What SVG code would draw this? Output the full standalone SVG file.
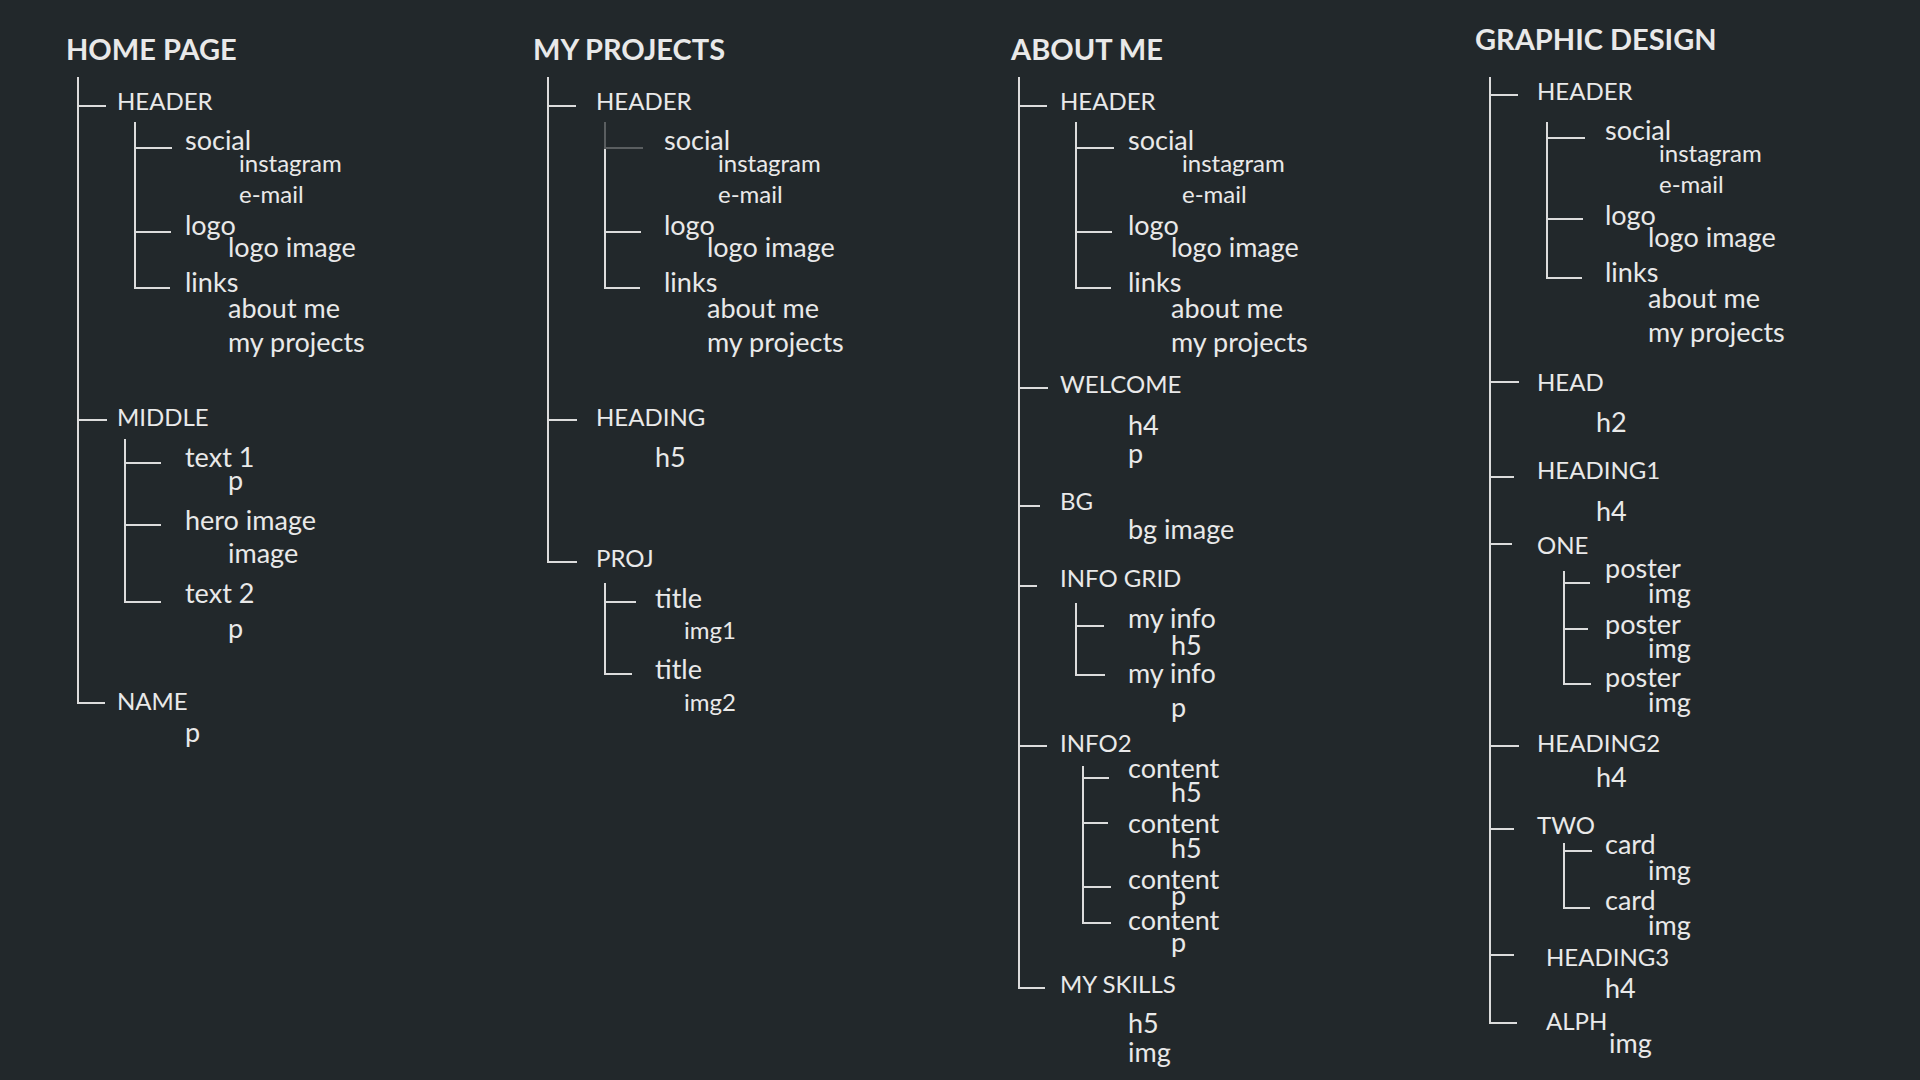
<svg xmlns="http://www.w3.org/2000/svg" width="1920" height="1080" viewBox="0 0 1920 1080">
<style>
text{font-family:Lato,"Liberation Sans",sans-serif;fill:#e9e9e9}
.t{font-size:29px;font-weight:700}
.c{font-size:24px}
.l{font-size:27px}
.s{font-size:24px}
.ln{fill:none;stroke:#dcdcdc;stroke-width:2}
.dim{fill:none;stroke:#5a5e60;stroke-width:2}
</style>
<rect width="1920" height="1080" fill="#22282b"/>
<g id="connectors">
<path class="ln" d="M78 77V703H105M78 106H106M78 420H107M135 122V288H170M135 148H172M135 232H171M125 439V602H161M125 463H161M125 525H161"/>
<path class="ln" d="M548 77V562H577M548 106H576M548 420H577M605 148V288H640M605 232H641M605 583V674H632M605 602H636"/>
<path class="dim" d="M605 122V148H643"/>
<path class="ln" d="M1019 77V988H1045M1019 106H1047M1019 388H1048M1019 506H1040M1019 586H1037M1019 746H1047M1076 122V288H1111M1076 148H1114M1076 232H1112M1076 603V675H1105M1076 626H1104M1083 766V923H1111M1083 778H1109M1083 823H1108M1083 887H1111"/>
<path class="ln" d="M1490 77V1023H1517M1490 95H1518M1490 382H1519M1490 477H1514M1490 544H1512M1490 746H1519M1490 829H1514M1490 955H1514M1547 122V278H1582M1547 138H1585M1547 219H1583M1564 571V684H1591M1564 583H1590M1564 629H1588M1564 843V908H1590M1564 851H1592"/>
</g>
<g id="home">
<g id="home-title"><text class="t" x="66" y="60">HOME PAGE</text></g>
<g id="home-header"><text class="c" x="117" y="110">HEADER</text></g>
<g id="home-social"><text class="l" x="185" y="150">social</text><text class="s" x="239" y="172">instagram</text><text class="s" x="239" y="203">e-mail</text></g>
<g id="home-logo"><text class="l" x="185" y="235">logo</text><text class="l" x="228" y="257">logo image</text></g>
<g id="home-links"><text class="l" x="185" y="292">links</text><text class="l" x="228" y="318">about me</text><text class="l" x="228" y="352">my projects</text></g>
<g id="home-middle"><text class="c" x="117" y="426">MIDDLE</text></g>
<g id="home-text1"><text class="l" x="185" y="467">text 1</text><text class="l" x="228" y="490">p</text></g>
<g id="home-hero"><text class="l" x="185" y="530">hero image</text><text class="l" x="228" y="563">image</text></g>
<g id="home-text2"><text class="l" x="185" y="603">text 2</text><text class="l" x="228" y="638">p</text></g>
<g id="home-name"><text class="c" x="117" y="710">NAME</text><text class="l" x="185" y="742">p</text></g>
</g>
<g id="projects">
<g id="proj-title"><text class="t" x="533" y="60">MY PROJECTS</text></g>
<g id="proj-header"><text class="c" x="596" y="110">HEADER</text></g>
<g id="proj-social"><text class="l" x="664" y="150">social</text><text class="s" x="718" y="172">instagram</text><text class="s" x="718" y="203">e-mail</text></g>
<g id="proj-logo"><text class="l" x="664" y="235">logo</text><text class="l" x="707" y="257">logo image</text></g>
<g id="proj-links"><text class="l" x="664" y="292">links</text><text class="l" x="707" y="318">about me</text><text class="l" x="707" y="352">my projects</text></g>
<g id="proj-heading"><text class="c" x="596" y="426">HEADING</text><text class="l" x="655" y="467">h5</text></g>
<g id="proj-proj"><text class="c" x="596" y="567">PROJ</text></g>
<g id="proj-title1"><text class="l" x="655" y="608">title</text><text class="s" x="684" y="639">img1</text></g>
<g id="proj-title2"><text class="l" x="655" y="679">title</text><text class="s" x="684" y="711">img2</text></g>
</g>
<g id="about">
<g id="about-title"><text class="t" x="1011" y="60">ABOUT ME</text></g>
<g id="about-header"><text class="c" x="1060" y="110">HEADER</text></g>
<g id="about-social"><text class="l" x="1128" y="150">social</text><text class="s" x="1182" y="172">instagram</text><text class="s" x="1182" y="203">e-mail</text></g>
<g id="about-logo"><text class="l" x="1128" y="235">logo</text><text class="l" x="1171" y="257">logo image</text></g>
<g id="about-links"><text class="l" x="1128" y="292">links</text><text class="l" x="1171" y="318">about me</text><text class="l" x="1171" y="352">my projects</text></g>
<g id="about-welcome"><text class="c" x="1060" y="393">WELCOME</text><text class="l" x="1128" y="435">h4</text><text class="l" x="1128" y="463">p</text></g>
<g id="about-bg"><text class="c" x="1060" y="510">BG</text><text class="l" x="1128" y="539">bg image</text></g>
<g id="about-infogrid"><text class="c" x="1060" y="587">INFO GRID</text></g>
<g id="about-myinfo1"><text class="l" x="1128" y="628">my info</text><text class="l" x="1171" y="655">h5</text></g>
<g id="about-myinfo2"><text class="l" x="1128" y="683">my info</text><text class="l" x="1171" y="717">p</text></g>
<g id="about-info2"><text class="c" x="1060" y="752">INFO2</text></g>
<g id="about-content1"><text class="l" x="1128" y="778">content</text><text class="l" x="1171" y="802">h5</text></g>
<g id="about-content2"><text class="l" x="1128" y="833">content</text><text class="l" x="1171" y="858">h5</text></g>
<g id="about-content3"><text class="l" x="1128" y="889">content</text><text class="l" x="1171" y="905">p</text></g>
<g id="about-content4"><text class="l" x="1128" y="930">content</text><text class="l" x="1171" y="952">p</text></g>
<g id="about-skills"><text class="c" x="1060" y="993">MY SKILLS</text><text class="l" x="1128" y="1033">h5</text><text class="l" x="1128" y="1062">img</text></g>
</g>
<g id="graphic">
<g id="gd-title"><text class="t" x="1475" y="50">GRAPHIC DESIGN</text></g>
<g id="gd-header"><text class="c" x="1537" y="100">HEADER</text></g>
<g id="gd-social"><text class="l" x="1605" y="140">social</text><text class="s" x="1659" y="162">instagram</text><text class="s" x="1659" y="193">e-mail</text></g>
<g id="gd-logo"><text class="l" x="1605" y="225">logo</text><text class="l" x="1648" y="247">logo image</text></g>
<g id="gd-links"><text class="l" x="1605" y="282">links</text><text class="l" x="1648" y="308">about me</text><text class="l" x="1648" y="342">my projects</text></g>
<g id="gd-head"><text class="c" x="1537" y="391">HEAD</text><text class="l" x="1596" y="432">h2</text></g>
<g id="gd-heading1"><text class="c" x="1537" y="479">HEADING1</text><text class="l" x="1596" y="521">h4</text></g>
<g id="gd-one"><text class="c" x="1537" y="554">ONE</text></g>
<g id="gd-poster1"><text class="l" x="1605" y="578">poster</text><text class="l" x="1648" y="603">img</text></g>
<g id="gd-poster2"><text class="l" x="1605" y="634">poster</text><text class="l" x="1648" y="658">img</text></g>
<g id="gd-poster3"><text class="l" x="1605" y="687">poster</text><text class="l" x="1648" y="712">img</text></g>
<g id="gd-heading2"><text class="c" x="1537" y="752">HEADING2</text><text class="l" x="1596" y="787">h4</text></g>
<g id="gd-two"><text class="c" x="1537" y="834">TWO</text></g>
<g id="gd-card1"><text class="l" x="1605" y="854">card</text><text class="l" x="1648" y="880">img</text></g>
<g id="gd-card2"><text class="l" x="1605" y="910">card</text><text class="l" x="1648" y="935">img</text></g>
<g id="gd-heading3"><text class="c" x="1546" y="966">HEADING3</text><text class="l" x="1605" y="998">h4</text></g>
<g id="gd-alph"><text class="c" x="1546" y="1030">ALPH</text><text class="l" x="1609" y="1053">img</text></g>
</g>
</svg>
